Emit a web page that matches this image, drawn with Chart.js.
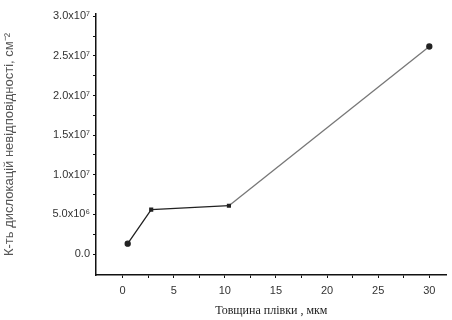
<!DOCTYPE html>
<html>
<head>
<meta charset="utf-8">
<script src="https://cdn.jsdelivr.net/npm/chart.js@4/dist/chart.umd.min.js"></script>
<style>
  html, body { margin: 0; padding: 0; background: #fff; }
  #wrap { width: 452px; height: 320px; }
</style>
</head>
<body>
<div id="wrap"><canvas id="myChart" width="452" height="320"></canvas></div>
<script>
// thickness of film, um
const thickness = [0.5, 2.8, 10.4, 30];
// misfit dislocation density, cm^-2
const density = [1.3e6, 5.6e6, 6.1e6, 2.62e7];

const xTicks = [0, 5, 10, 15, 20, 25, 30];
const yTicks = [0, 5e6, 1e7, 1.5e7, 2e7, 2.5e7, 3e7];
const yTickLabels = ['0.0', '5.0x10\u2076', '1.0x10\u2077', '1.5x10\u2077', '2.0x10\u2077', '2.5x10\u2077', '3.0x10\u2077'];

const tickFont = { family: '"Liberation Sans", Arial, sans-serif', size: 11 };

function minorTicks(list) {
  const out = [];
  for (let i = 0; i < list.length; i++) {
    out.push(list[i]);
    if (i < list.length - 1) out.push((list[i] + list[i + 1]) / 2);
  }
  return out;
}

const ctx = document.getElementById('myChart').getContext('2d');
new Chart(ctx, {
  type: 'line',
  data: {
    datasets: [{
      data: thickness.map((t, i) => ({ x: t, y: density[i] })),
      borderColor: '#222',
      borderWidth: 1.3,
      pointRadius: [2.5, 2, 2, 2.5],
      pointStyle: ['circle', 'rect', 'rect', 'circle'],
      pointBackgroundColor: '#222',
      pointBorderColor: '#222',
      segment: {
        borderColor: c => c.p0DataIndex === 2 ? '#777' : '#222',
      },
    }],
  },
  options: {
    responsive: false,
    animation: false,
    layout: { padding: { left: 2, top: 14, right: 4, bottom: 2 } },
    plugins: { legend: { display: false }, tooltip: { enabled: false } },
    scales: {
      x: {
        type: 'linear',
        min: -2.6,
        max: 31.7,
        afterBuildTicks: axis => { axis.ticks = minorTicks(xTicks).map(v => ({ value: v })); },
        afterFit: scale => { scale.height = 43; },
        border: { color: '#111', width: 1.5 },
        grid: { drawOnChartArea: false, drawTicks: true, tickLength: 3, color: '#111' },
        ticks: {
          autoSkip: false,
          maxRotation: 0,
          padding: 6,
          color: '#333',
          font: tickFont,
          callback: v => xTicks.includes(v) ? String(v) : '',
        },
        title: {
          display: true,
          text: 'Товщина плівки , мкм',
          color: '#222',
          font: { family: '"Liberation Serif", "Times New Roman", serif', size: 12 },
          padding: { top: 4, bottom: 0 },
        },
      },
      y: {
        type: 'linear',
        min: -2.65e6,
        max: 3.03e7,
        afterBuildTicks: axis => { axis.ticks = minorTicks(yTicks).map(v => ({ value: v })); },
        afterFit: scale => { scale.width = 94; },
        border: { color: '#111', width: 1.5 },
        grid: { drawOnChartArea: false, drawTicks: true, tickLength: 3, color: '#111' },
        ticks: {
          autoSkip: false,
          padding: 3,
          color: '#333',
          font: tickFont,
          callback: v => {
            const i = yTicks.indexOf(v);
            return i >= 0 ? yTickLabels[i] : '';
          },
        },
        title: {
          display: true,
          text: 'К-ть дислокацій невідповідності, см\u207B\u00B2',
          color: '#555',
          font: { family: '"Liberation Sans", Arial, sans-serif', size: 13 },
          padding: { top: 0, bottom: 6 },
        },
      },
    },
  },
});
</script>
</body>
</html>
